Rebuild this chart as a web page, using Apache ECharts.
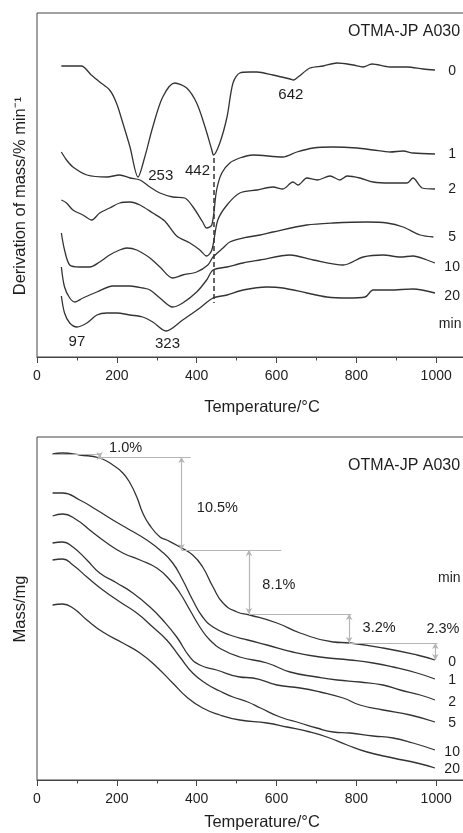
<!DOCTYPE html>
<html>
<head>
<meta charset="utf-8">
<script src="https://cdn.jsdelivr.net/npm/echarts@6/dist/echarts.min.js"></script>
<style>html,body{margin:0;padding:0;background:#fff}#c{width:463px;height:833px}</style>
</head>
<body>
<div id="c"></div>
<script>
// ---- data (temperature °C, plotted value in arbitrary offset units) ----
const runLabels = ['0', '1', '2', '5', '10', '20'];
const sampleName = 'OTMA-JP A030';
const xTitle = 'Temperature/°C';
const dtgTitle = 'Derivation of mass/% min\u207B\u00B9';
const tgTitle = 'Mass/mg';
const dtgPeakLabels = ['253', '442', '642', '97', '323'];
const tgStepLabels = ['1.0%', '10.5%', '8.1%', '3.2%', '2.3%'];
const dashedPeakT = 442;

const dtg0 = [[61,291],[111,291],[136,282],[157,275],[182,267],[199,254],[215,234],[233,210],[253,180],[270,200],[290,230],[315,260],[345,274],[375,269],[400,254],[421,230],[438,207],[442,202],[458,214],[476,240],[491,274],[508,284],[533,285],[551,285],[591,282],[634,278],[642,277],[654,280],[684,289],[717,291],[752,294],[792,292],[817,290],[839,293],[884,290],[927,290],[967,288],[997,287]];
const dtg1 = [[61,205],[74,197],[90,190],[125,182],[175,180],[207,182],[233,179],[258,177],[283,170],[308,164],[340,160],[370,159],[391,150],[415,135],[425,129],[438,132],[450,167],[463,184],[483,194],[508,199],[541,202],[616,200],[651,205],[692,209],[740,210],[802,209],[842,207],[885,205],[917,206],[942,204],[997,203]];
const dtg2 = [[61,157],[74,154],[90,147],[115,142],[137,137],[157,144],[182,149],[207,154],[233,155],[258,152],[290,144],[320,136],[350,121],[383,114],[408,107],[425,101],[438,107],[453,137],[476,152],[508,164],[551,167],[591,170],[616,168],[641,175],[654,172],[676,179],[702,177],[734,181],[759,177],[777,181],[809,179],[842,175],[885,174],[927,174],[942,179],[965,169],[997,168]];
const dtg5 = [[61,124],[69,107],[82,92],[107,90],[132,90],[157,95],[182,102],[207,107],[225,109],[250,107],[283,99],[308,90],[340,79],[365,82],[400,85],[428,92],[441,100],[466,109],[483,115],[516,119],[559,122],[591,125],[676,132],[742,134],[827,135],[877,134],[917,130],[960,122],[993,120]];
const dtg10 = [[61,90],[69,70],[82,59],[95,55],[115,59],[150,65],[190,71],[233,71],[265,69],[283,67],[308,59],[340,50],[365,54],[400,65],[425,77],[441,87],[476,90],[516,94],[559,97],[634,102],[692,97],[767,92],[817,100],[867,102],[910,100],[942,101],[977,97],[997,94]];
const dtg20 = [[61,61],[69,44],[82,34],[100,30],[125,34],[150,42],[175,44],[200,44],[233,42],[265,40],[290,35],[323,26],[365,37],[408,49],[441,59],[476,62],[516,67],[576,70],[616,69],[676,64],[726,60],[777,59],[822,60],[842,67],[885,67],[942,68],[997,64]];

const tg0 = [[39,326],[64,327],[107,325],[157,322],[190,315],[215,307],[233,297],[250,283],[265,267],[282,255],[308,243],[325,240],[358,233],[390,225],[415,213],[441,193],[466,177],[501,168],[533,165],[601,157],[659,147],[742,138],[784,137],[867,132],[952,125],[997,120]];
const tg1 = [[39,287],[64,287],[107,280],[150,270],[190,260],[233,250],[275,240],[308,230],[340,217],[365,200],[390,180],[415,163],[441,153],[483,145],[528,140],[576,135],[641,128],[709,123],[784,120],[842,117],[892,113],[952,107],[997,101]];
const tg2 = [[39,264],[64,266],[100,260],[132,250],[175,237],[215,227],[258,220],[300,212],[333,200],[358,187],[383,170],[408,153],[433,140],[466,130],[508,123],[576,117],[634,108],[701,103],[752,100],[809,98],[867,95],[910,90],[960,85],[997,80]];
const tg5 = [[39,237],[64,238],[90,233],[125,220],[157,207],[200,197],[240,187],[283,173],[315,160],[350,143],[383,123],[408,115],[450,110],[508,103],[541,102],[601,95],[659,92],[709,88],[767,82],[809,75],[867,70],[935,65],[997,58]];
const tg10 = [[39,220],[64,221],[90,215],[125,203],[165,190],[208,178],[250,167],[290,153],[325,140],[358,123],[390,107],[425,96],[458,89],[491,83],[528,78],[560,72],[609,63],[659,57],[701,52],[742,48],[784,47],[842,44],[892,42],[942,37],[997,30]];
const tg20 = [[39,175],[64,176],[90,172],[125,160],[165,148],[215,137],[258,127],[300,113],[340,97],[375,83],[415,72],[458,65],[508,60],[576,57],[626,53],[684,48],[726,43],[777,35],[827,28],[892,22],[952,17],[997,12]];

// step brackets on the mass curve: [T1, v1, T2, v2, arrow?]
const tgBrackets = [
  [39,326,157,326,0],[157,326,157,322,1],[157,323,385,323,0],
  [362,323,362,230,1],[362,230,612,230,0],
  [531,230,531,166,1],[531,166,787,166,0],
  [782,166,782,137,1],[782,137,1003,137,0],
  [998,137,998,120,1]
];

// ---- chart ----
const FONT = 'Liberation Sans, Arial, sans-serif';
const TXT = '#1e1e1e';
const LINE = '#333';
const dtgSeries = [dtg0, dtg1, dtg2, dtg5, dtg10, dtg20];
const tgSeries = [tg0, tg1, tg2, tg5, tg10, tg20];

function curve(data, idx, smooth) {
  return {
    type: 'line', xAxisIndex: idx, yAxisIndex: idx, data: data,
    showSymbol: false, symbol: 'none', smooth: smooth, silent: true,
    lineStyle: { color: LINE, width: 1.3 }
  };
}
function textItem(name, T, v, size, align) {
  return {
    name: name, value: [T, v],
    label: { show: true, position: 'inside', formatter: '{b}', color: TXT, opacity: 1,
             fontFamily: FONT, fontSize: size, align: align || 'center', verticalAlign: 'middle' }
  };
}
function textSeries(idx, items) {
  return { type: 'scatter', xAxisIndex: idx, yAxisIndex: idx, symbolSize: 1, silent: true,
           itemStyle: { color: 'rgba(0,0,0,0)', opacity: 1 }, data: items, z: 10 };
}

const topRunV = [286, 203, 168, 120, 90, 61];
const botRunV = [118, 100, 78, 57, 28, 11];

const series = [];
dtgSeries.forEach(d => series.push(curve(d, 0, 0.3)));
tgSeries.forEach(d => series.push(curve(d, 1, 0.5)));

series[0].markLine = {
  silent: true, symbol: 'none', animation: false,
  label: { show: false },
  lineStyle: { type: [5, 3], color: LINE, width: 1.5 },
  data: [[{ coord: [dashedPeakT, 199] }, { coord: [dashedPeakT, 54] }]]
};
series[6].markLine = {
  silent: true, symbol: 'none', animation: false,
  label: { show: false },
  lineStyle: { type: 'solid', color: '#b5b5b5', width: 1.2 },
  data: tgBrackets.map(b => [
    { coord: [b[0], b[1]], symbol: b[4] ? 'arrow' : 'none', symbolSize: [5, 6] },
    { coord: [b[2], b[3]], symbol: b[4] ? 'arrow' : 'none', symbolSize: [5, 6] }
  ])
};

const topTexts = [
  textItem(sampleName, 1060, 325, 16, 'right'),
  textItem(dtgPeakLabels[0], 310, 181, 15),
  textItem(dtgPeakLabels[1], 402, 186, 15),
  textItem(dtgPeakLabels[2], 636, 262, 15),
  textItem(dtgPeakLabels[3], 100, 15, 15),
  textItem(dtgPeakLabels[4], 327, 13, 15),
  textItem('min', 1035, 33, 14)
].concat(runLabels.map((r, i) => textItem(r, 1040, topRunV[i], 14)));

const botTexts = [
  textItem(sampleName, 1060, 314, 16, 'right'),
  textItem(tgStepLabels[0], 222, 332, 14.5),
  textItem(tgStepLabels[1], 452, 272, 14.5),
  textItem(tgStepLabels[2], 606, 195, 14.5),
  textItem(tgStepLabels[3], 857, 152, 14.5),
  textItem(tgStepLabels[4], 1017, 151, 14.5),
  textItem('min', 1033, 202, 14)
].concat(runLabels.map((r, i) => textItem(r, 1040, botRunV[i], 14)));

series.push(textSeries(0, topTexts));
series.push(textSeries(1, botTexts));

function xAxis(idx) {
  return {
    type: 'value', gridIndex: idx, min: 0, max: 1200, interval: 200,
    axisLine: { show: true, lineStyle: { color: '#444', width: 1 } },
    axisTick: { show: true, inside: false, length: 6, lineStyle: { color: '#444' } },
    minorTick: { show: true, splitNumber: 2, length: 3.5, lineStyle: { color: '#444' } },
    splitLine: { show: false }, minorSplitLine: { show: false },
    axisLabel: { show: true, margin: 12, color: TXT, fontFamily: FONT, fontSize: 14,
                 formatter: v => (v <= 1000 ? String(v) : '') }
  };
}
function yAxis(idx, max) {
  return { type: 'value', gridIndex: idx, min: 0, max: max, show: false };
}
const gridBase = { left: 37, width: 479, show: true, borderColor: '#444', borderWidth: 1,
                   backgroundColor: 'transparent', containLabel: false, outerBoundsMode: 'none' };

const option = {
  animation: false,
  backgroundColor: '#fff',
  textStyle: { fontFamily: FONT },
  grid: [
    Object.assign({ top: 13, height: 344 }, gridBase),
    Object.assign({ top: 437, height: 343 }, gridBase)
  ],
  xAxis: [xAxis(0), xAxis(1)],
  yAxis: [yAxis(0, 344), yAxis(1, 343)],
  series: series,
  graphic: [
    { type: 'text', x: 20, y: 196, rotation: Math.PI / 2, silent: true,
      style: { text: dtgTitle, font: '16.5px ' + FONT, fill: TXT, align: 'center', verticalAlign: 'middle', textAlign: 'center', textVerticalAlign: 'middle' } },
    { type: 'text', x: 20, y: 609, rotation: Math.PI / 2, silent: true,
      style: { text: tgTitle, font: '16.5px ' + FONT, fill: TXT, align: 'center', verticalAlign: 'middle', textAlign: 'center', textVerticalAlign: 'middle' } },
    { type: 'text', x: 262, y: 407, silent: true,
      style: { text: xTitle, font: '16.5px ' + FONT, fill: TXT, align: 'center', verticalAlign: 'middle', textAlign: 'center', textVerticalAlign: 'middle' } },
    { type: 'text', x: 262, y: 822, silent: true,
      style: { text: xTitle, font: '16.5px ' + FONT, fill: TXT, align: 'center', verticalAlign: 'middle', textAlign: 'center', textVerticalAlign: 'middle' } }
  ]
};

const chart = echarts.init(document.getElementById('c'), null, { renderer: 'canvas' });
chart.setOption(option);
</script>
</body>
</html>
